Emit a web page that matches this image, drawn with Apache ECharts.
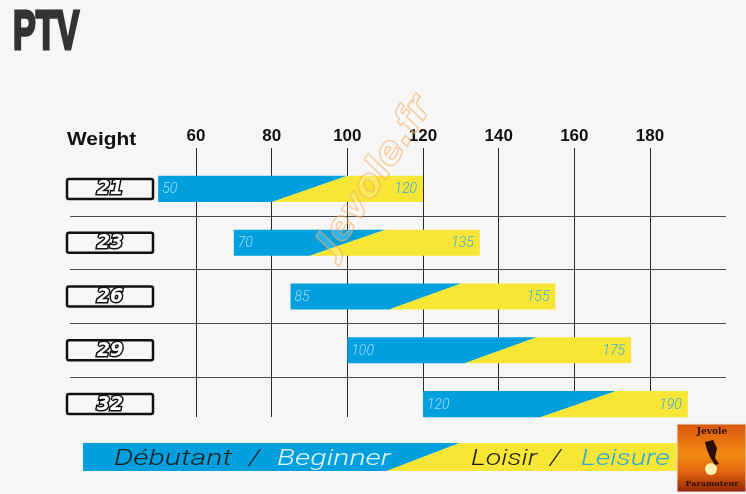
<!DOCTYPE html>
<html><head><meta charset="utf-8">
<script src="https://cdn.jsdelivr.net/npm/echarts@6/dist/echarts.min.js"></script>
<style>html,body{margin:0;padding:0;background:#f6f6f6}#c{width:746px;height:494px}</style>
</head><body><div id="c"></div>
<script>
// ---- data ----
const sizes = ['21', '23', '26', '29', '32'];
const weightMin = [50, 70, 85, 100, 120];
const weightMax = [120, 135, 155, 175, 190];
const beginnerEndBottom = [80, 90, 111, 131, 151];
const beginnerEndTop = [100, 110, 130, 150, 171];
const weightTicks = [60, 80, 100, 120, 140, 160, 180];
const legendBeginner = ['Débutant', '/', 'Beginner'];
const legendLeisure = ['Loisir', '/', 'Leisure'];
const titleText = 'PTV';
const axisTitle = 'Weight';

// ---- layout / style ----
const BLUE = '#00a0df', YELLOW = '#f7e636';
const tickMin = weightTicks[0], tickMax = weightTicks[weightTicks.length - 1];
const g1 = { left: 196, right: 96, top: 148, bottom: 77 };
const g0 = { left: 70, right: 20, top: 162, bottom: 63 };
const W = 746;
const k = (W - g1.left - g1.right) / (tickMax - tickMin);
const x0min = tickMin - (g1.left - g0.left) / k;
const x0max = tickMax + ((W - g0.right) - (W - g1.right)) / k;

const rows = sizes.map((s, i) => [i, weightMin[i], weightMax[i], beginnerEndBottom[i], beginnerEndTop[i]]);

const chart = echarts.init(document.getElementById('c'), null, { renderer: 'canvas' });

const lightFont = (sz) => 'italic 300 ' + sz + 'px Roboto, "Open Sans", Lato, "Liberation Sans", sans-serif';

const legendWords = [
  { t: legendBeginner[0], x: 114, c: '#1c1c1c', s: 1.38 },
  { t: legendBeginner[1], x: 249, c: '#1c1c1c', s: 1.3 },
  { t: legendBeginner[2], x: 277, c: '#e2f4fc', s: 1.38 },
  { t: legendLeisure[0], x: 471, c: '#1c1c1c', s: 1.3 },
  { t: legendLeisure[1], x: 550, c: '#1c1c1c', s: 1.3 },
  { t: legendLeisure[2], x: 581, c: '#27a8e0', s: 1.31 }
];

chart.setOption({
  backgroundColor: '#f6f6f6',
  animation: false,
  grid: [
    { left: g0.left, right: g0.right, top: g0.top, bottom: g0.bottom },
    { left: g1.left, right: g1.right, top: g1.top, bottom: g1.bottom }
  ],
  xAxis: [
    { type: 'value', gridIndex: 0, min: x0min, max: x0max, show: false },
    {
      type: 'value', gridIndex: 1, min: tickMin, max: tickMax, interval: 20, position: 'top',
      axisLine: { show: false }, axisTick: { show: false },
      axisLabel: { margin: 3, color: '#111', fontSize: 17, fontWeight: 'bold', fontFamily: '"Liberation Sans", Arial, sans-serif' },
      splitLine: { show: true, showMinLine: true, showMaxLine: true, lineStyle: { color: '#2a2a2a', width: 1 } }
    }
  ],
  yAxis: [
    {
      type: 'category', gridIndex: 0, data: sizes, inverse: true,
      axisLine: { show: false }, axisTick: { show: false },
      splitLine: { show: true, showMinLine: false, showMaxLine: false, lineStyle: { color: '#4a4a4a', width: 1 } },
      axisLabel: {
        inside: true, margin: -3,
        formatter: v => '{b|' + v + '}',
        rich: {
          b: {
            fontFamily: '"DejaVu Sans", sans-serif', fontSize: 19, fontWeight: 'bold', fontStyle: 'italic',
            color: '#fff', textBorderColor: '#111', textBorderWidth: 3,
            borderColor: '#111', borderWidth: 2.5, borderRadius: 2,
            width: 66, height: 19, lineHeight: 20, align: 'center', padding: [1, 10, 0, 10]
          }
        }
      },
      z: 3
    },
    { type: 'value', gridIndex: 1, show: false, min: 0, max: 1 }
  ],
  series: [{
    type: 'custom',
    xAxisIndex: 0, yAxisIndex: 0,
    encode: { x: [1, 2, 3, 4], y: 0 },
    data: rows,
    z: 5,
    renderItem: function (params, api) {
      const ci = api.value(0);
      const s = api.coord([api.value(1), ci]);
      const e = api.coord([api.value(2), ci]);
      const b = api.coord([api.value(3), ci]);
      const t = api.coord([api.value(4), ci]);
      const h = api.size([0, 1])[1] * 0.485;
      const yc = s[1], top = yc - h / 2, bot = yc + h / 2;
      return {
        type: 'group', children: [
          { type: 'polygon', shape: { points: [[s[0], top], [t[0] + 0.5, top], [b[0] + 0.5, bot], [s[0], bot]] }, style: { fill: BLUE } },
          { type: 'polygon', shape: { points: [[t[0], top], [e[0], top], [e[0], bot], [b[0], bot]] }, style: { fill: YELLOW } },
          { type: 'text', x: s[0] + 4, y: yc + 1, style: { text: String(api.value(1)), fill: '#a6dbf5', font: lightFont(14), verticalAlign: 'middle', align: 'left' } },
          { type: 'text', x: e[0] - 6, y: yc + 1, style: { text: String(api.value(2)), fill: '#38acd9', font: lightFont(14), verticalAlign: 'middle', align: 'right' } }
        ]
      };
    }
  }],
  graphic: [
    { type: 'text', x: 13, y: 34, scaleX: 0.62, style: { text: titleText, font: 'bold 55px "Liberation Sans", Arial, sans-serif', fill: '#333', stroke: '#333', lineWidth: 3, verticalAlign: 'middle', align: 'left' } },
    { type: 'text', x: 67, y: 140, scaleX: 1.16, style: { text: axisTitle, font: 'bold 18px "Liberation Sans", Arial, sans-serif', fill: '#111', verticalAlign: 'middle', align: 'left' } },
    // legend band
    { type: 'polygon', shape: { points: [[83, 443], [460, 443], [387, 471], [83, 471]] }, style: { fill: BLUE } },
    { type: 'polygon', shape: { points: [[459.5, 443], [678, 443], [678, 471], [386.5, 471]] }, style: { fill: YELLOW } },
    ...legendWords.map(w => ({ type: 'text', x: w.x, y: 459, scaleX: w.s, style: { text: w.t, font: lightFont(22), fill: w.c, verticalAlign: 'middle', align: 'left' } })),
    // logo
    {
      type: 'group', x: 677, y: 424, children: [
        { type: 'rect', shape: { x: 0, y: 0, width: 69, height: 68 }, style: { fill: new echarts.graphic.LinearGradient(0, 0, 0, 1, [{ offset: 0, color: '#d9560c' }, { offset: 0.45, color: '#f08a12' }, { offset: 0.7, color: '#e4640c' }, { offset: 1, color: '#8f2408' }]), stroke: '#e9e9e9', lineWidth: 1 } },
        { type: 'circle', shape: { cx: 34, cy: 45, r: 6 }, style: { fill: '#fff2b0' } },
        { type: 'polygon', shape: { points: [[28, 18], [36, 16], [40, 24], [38, 34], [42, 40], [38, 41], [33, 33], [30, 26]] }, style: { fill: '#2a0c02' } },
        { type: 'text', x: 35, y: 8, style: { text: 'Jevole', font: 'bold 9px "DejaVu Serif", serif', fill: '#2a0c02', align: 'center', verticalAlign: 'middle' } },
        { type: 'text', x: 35, y: 60, style: { text: 'Paramoteur', font: 'bold 8px "DejaVu Serif", serif', fill: '#2a0c02', align: 'center', verticalAlign: 'middle' } }
      ]
    },
    // watermark
    { type: 'text', x: 376, y: 176, rotation: 1.0, z: 100, style: { text: 'Jevole.fr', font: 'bold italic 38px "DejaVu Sans", sans-serif', fill: 'rgba(255,255,255,0.2)', stroke: 'rgba(245,160,70,0.55)', lineWidth: 1.5, align: 'center', verticalAlign: 'middle' } }
  ]
});
</script></body></html>
